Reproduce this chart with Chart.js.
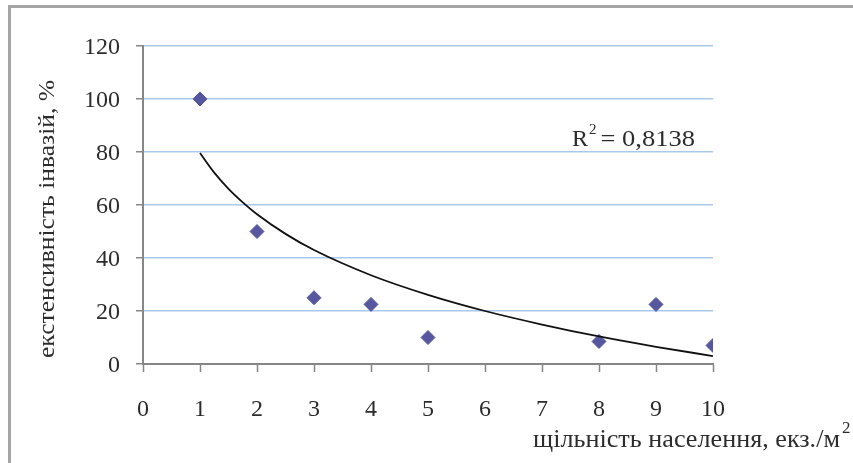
<!DOCTYPE html>
<html lang="uk">
<head>
<meta charset="utf-8">
<script src="https://cdn.jsdelivr.net/npm/chart.js@4/dist/chart.umd.min.js"></script>
<style>
  body { margin: 0; background: #fff; }
  #wrap { position: relative; width: 853px; height: 463px; overflow: hidden; }
  #frame { position: absolute; left: 8px; top: 5px; width: 900px; height: 500px;
           border-top: 3px solid #a4a4a4; border-left: 3px solid #a4a4a4; }
  canvas { position: absolute; left: 0; top: 0; }
</style>
</head>
<body>
<div id="wrap">
  <div id="frame"></div>
  <canvas id="grafico" width="853" height="463"></canvas>
</div>
<script>
// щільність населення (екз./м2) та екстенсивність інвазії (%)
const densidade = [1, 2, 3, 4, 5, 8, 9, 10];
const extensividade = [100, 50, 25, 22.5, 10, 8.5, 22.5, 7];

// лінія тренду (логарифмічна)
const trendX = [1, 1.25, 1.5, 1.75, 2, 2.5, 3, 4, 5, 6, 7, 8, 9, 10];
const trendY = [79.6, 72.2, 66.1, 61.0, 56.5, 49.1, 43.0, 33.5, 26.1, 20.0, 14.9, 10.4, 6.5, 3.0];

const yTicks = [0, 20, 40, 60, 80, 100, 120];
const xTicks = [0, 1, 2, 3, 4, 5, 6, 7, 8, 9, 10];

const tituloY = 'екстенсивність інвазій, %';
const tituloX = 'щільність населення, екз./м';
const rQuadrado = '0,8138';

const serif = '"Liberation Serif", "Times New Roman", serif';
const cinza = '#868686';

// текст, стиснутий/розтягнутий по ширині до заданої
function texto(c, s, x, y, largura) {
  const w = c.measureText(s).width;
  c.save();
  c.translate(x, y);
  c.scale(largura / w, 1);
  c.fillText(s, 0, 0);
  c.restore();
}

const textos = {
  id: 'textos',
  afterDraw(chart) {
    const c = chart.ctx;
    c.save();
    c.fillStyle = '#2c2c2c';
    c.textBaseline = 'middle';

    // назва осі Y
    c.save();
    c.translate(48, 219);
    c.rotate(-Math.PI / 2);
    c.font = '24px ' + serif;
    c.textAlign = 'center';
    texto(c, tituloY, 0, 0, 278);
    c.restore();

    // назва осі X з верхнім індексом
    c.font = '25px ' + serif;
    c.textAlign = 'left';
    c.textBaseline = 'alphabetic';
    texto(c, tituloX, 533, 447, 307);
    c.font = '17px ' + serif;
    c.fillText('2', 842, 433);

    // R²
    c.font = '24px ' + serif;
    c.fillText('R', 572, 146);
    let x = 572 + c.measureText('R').width + 1;
    c.font = '15px ' + serif;
    c.fillText('2', x, 134);
    x += c.measureText('2').width + 4;
    c.font = '24px ' + serif;
    texto(c, '= ' + rQuadrado, x, 146, 695 - x);

    c.restore();
  }
};

const ctx = document.getElementById('grafico').getContext('2d');
new Chart(ctx, {
  type: 'scatter',
  data: {
    datasets: [{
      label: 'дані',
      data: densidade.map((x, i) => ({ x, y: extensividade[i] })),
      pointStyle: 'rectRot',
      pointRadius: 7,
      backgroundColor: '#5757a0',
      borderColor: '#5757a0',
      borderWidth: 1,
      order: 2
    }, {
      label: 'тренд',
      type: 'line',
      data: trendX.map((x, i) => ({ x, y: trendY[i] })),
      borderColor: '#111',
      borderWidth: 1.8,
      pointRadius: 0,
      fill: false,
      cubicInterpolationMode: 'monotone',
      order: 1
    }]
  },
  options: {
    responsive: false,
    animation: false,
    devicePixelRatio: 1,
    layout: { padding: { left: 0, top: 46, right: 140, bottom: 39 } },
    plugins: {
      legend: { display: false },
      tooltip: { enabled: false }
    },
    scales: {
      x: {
        type: 'linear',
        min: 0,
        max: 10,
        afterBuildTicks: s => { s.ticks = xTicks.map(v => ({ value: v })); },
        afterFit: s => { s.height = 60; },
        grid: { drawOnChartArea: false, tickLength: 8, tickColor: cinza, tickWidth: 1.5 },
        border: { color: cinza, width: 2 },
        ticks: { color: '#2c2c2c', padding: 23, font: { family: serif, size: 24 } }
      },
      y: {
        min: 0,
        max: 120,
        afterBuildTicks: s => { s.ticks = yTicks.map(v => ({ value: v })); },
        afterFit: s => { s.width = 143; },
        grid: { color: '#a9c9ec', lineWidth: 1.5, tickLength: 7, tickColor: cinza, tickWidth: 1.5 },
        border: { color: cinza, width: 2 },
        ticks: { color: '#2c2c2c', padding: 16, labelOffset: 2, font: { family: serif, size: 24 } }
      }
    }
  },
  plugins: [textos]
});
</script>
</body>
</html>
